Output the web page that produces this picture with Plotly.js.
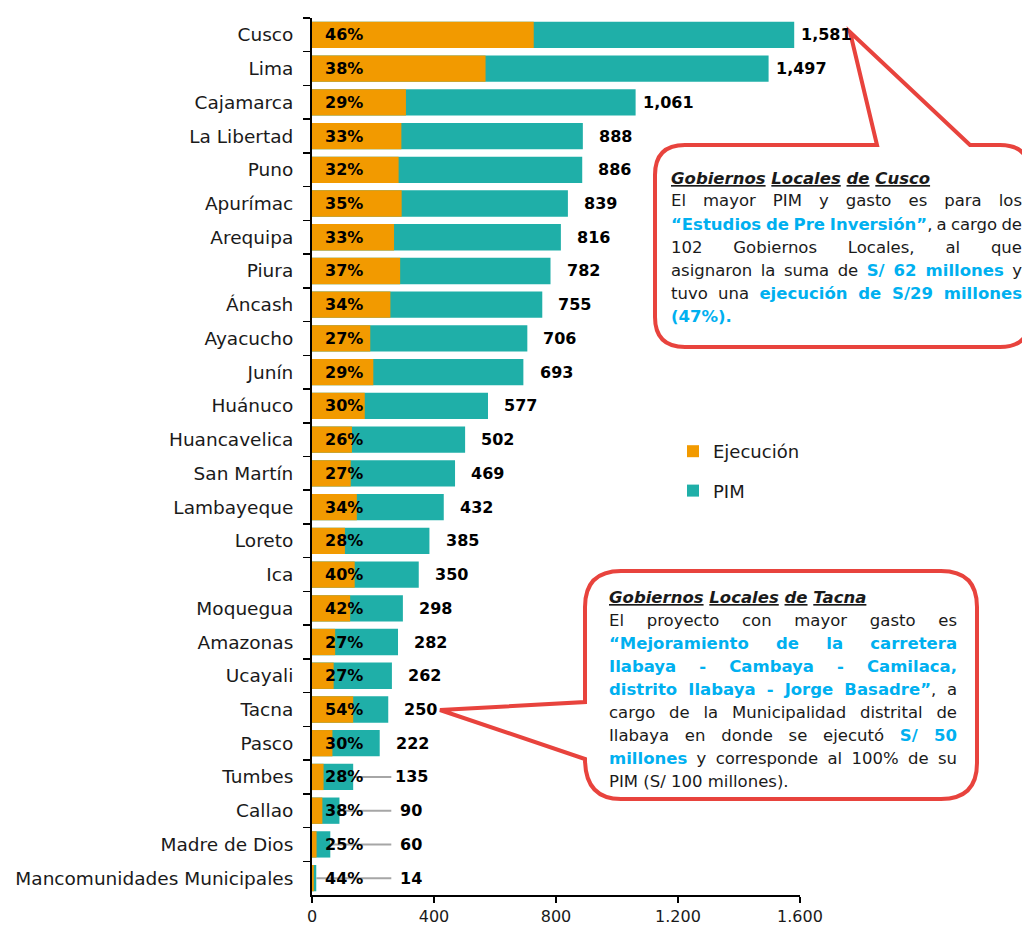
<!DOCTYPE html>
<html>
<head>
<meta charset="utf-8">
<script src="https://cdn.plot.ly/plotly-3.0.1.min.js"></script>
<style>html,body{margin:0;padding:0;background:#fff;}#chart{width:1022px;height:926px;}</style>
</head>
<body>
<div id="chart"></div>
<script>
const categories = ["Cusco","Lima","Cajamarca","La Libertad","Puno","Apurímac","Arequipa","Piura","Áncash","Ayacucho","Junín","Huánuco","Huancavelica","San Martín","Lambayeque","Loreto","Ica","Moquegua","Amazonas","Ucayali","Tacna","Pasco","Tumbes","Callao","Madre de Dios","Mancomunidades Municipales"];
const pim = [1581,1497,1061,888,886,839,816,782,755,706,693,577,502,469,432,385,350,298,282,262,250,222,135,90,60,14];
const ejecucion = [727,569,308,293,284,294,269,289,257,191,201,173,131,127,147,108,140,125,76,71,135,67,38,34,15,6];
const pctLabels = ["46%","38%","29%","33%","32%","35%","33%","37%","34%","27%","29%","30%","26%","27%","34%","28%","40%","42%","27%","27%","54%","30%","28%","38%","25%","44%"];
const pimLabels = ["1,581","1,497","1,061","888","886","839","816","782","755","706","693","577","502","469","432","385","350","298","282","262","250","222","135","90","60","14"];
const xTicks = [0,400,800,1200,1600];
const xTickText = ["0","400","800","1.200","1.600"];
const xMax = 1600;

const ORANGE = "#F29A00", TEAL = "#1FAFA8", RED = "#E8433D", BLUE = "#00B0F0", TXT = "#1a1a1a";
const FONT = "DejaVu Sans";

// plot-area pixel box (for decorations)
const L = 312, R = 800, T = 18, B = 895;
const px = x => (x - L) / (R - L);
const py = y => (B - y) / (B - T);

const traces = [
  {type:"bar", orientation:"h", name:"PIM", y:categories, x:pim, marker:{color:TEAL},
   legendrank:2, legendgroup:"p", hoverinfo:"x+y"},
  {type:"bar", orientation:"h", name:"Ejecución", y:categories, x:ejecucion, marker:{color:ORANGE},
   legendrank:1, legendgroup:"e", hoverinfo:"x+y"}
];

const annotations = [];
const shapes = [];
categories.forEach((c, i) => {
  const lx = Math.max(pim[i] + 107, 325);
  annotations.push({x:105, y:c, xref:"x", yref:"y", text:"<b>"+pctLabels[i]+"</b>", showarrow:false,
    xanchor:"center", yanchor:"middle", font:{family:FONT, size:16, color:"#000"}});
  annotations.push({x:lx / xMax, y:c, xref:"paper", yref:"y", text:"<b>"+pimLabels[i]+"</b>", showarrow:false,
    xanchor:"center", yanchor:"middle", font:{family:FONT, size:16, color:"#000"}});
  if (pim[i] + 107 < 325) {
    shapes.push({type:"line", xref:"x", yref:"y", x0:pim[i], x1:lx - 65, y0:i, y1:i,
      line:{color:"#A6A6A6", width:2}, layer:"above"});
  }
});

// rounded callout paths (pixel coords -> paper)
function P(x, y){ return px(x).toFixed(5) + "," + py(y).toFixed(5); }
function boxTop(l, t, r, b, rad, tail){
  return "M" + P(l+rad, t) + " L" + P(tail[0], t) + " L" + P(tail[1], tail[2]) + " L" + P(tail[3], t) +
    " L" + P(r-rad, t) + " Q" + P(r, t) + " " + P(r, t+rad) +
    " L" + P(r, b-rad) + " Q" + P(r, b) + " " + P(r-rad, b) +
    " L" + P(l+rad, b) + " Q" + P(l, b) + " " + P(l, b-rad) +
    " L" + P(l, t+rad) + " Q" + P(l, t) + " " + P(l+rad, t) + " Z";
}
function boxLeft(l, t, r, b, rad, tail){
  return "M" + P(l+rad, t) + " L" + P(r-rad, t) + " Q" + P(r, t) + " " + P(r, t+rad) +
    " L" + P(r, b-rad) + " Q" + P(r, b) + " " + P(r-rad, b) +
    " L" + P(l+rad, b) + " Q" + P(l, b) + " " + P(l, tail[3]) +
    " L" + P(tail[1], tail[2]) + " L" + P(l, tail[0]) +
    " L" + P(l, t+rad) + " Q" + P(l, t) + " " + P(l+rad, t) + " Z";
}
shapes.push({type:"path", xref:"paper", yref:"paper", path:boxTop(655,145,1030,347,30,[877,850,32,970]),
  line:{color:RED, width:4}, fillcolor:"#fff", layer:"above"});
shapes.push({type:"path", xref:"paper", yref:"paper", path:boxLeft(585,571,977,799,36,[702,440,710,759]),
  line:{color:RED, width:4}, fillcolor:"#fff", layer:"above"});

// callout text: lines of [text, style] segments; style n = normal, b = blue bold
const cuscoLines = [
  [["El mayor PIM y gasto es para los","n"]],
  [["“Estudios de Pre Inversión”","b"],[", a cargo de","n"]],
  [["102 Gobiernos Locales, al que","n"]],
  [["asignaron la suma de ","n"],["S/ 62 millones","b"],[" y","n"]],
  [["tuvo una ","n"],["ejecución de S/29 millones","b"]],
  [["(47%).","b"]]
];
const tacnaLines = [
  [["El proyecto con mayor gasto es","n"]],
  [["“Mejoramiento de la carretera","b"]],
  [["Ilabaya - Cambaya - Camilaca,","b"]],
  [["distrito Ilabaya - Jorge Basadre”","b"],[", a","n"]],
  [["cargo de la Municipalidad distrital de","n"]],
  [["Ilabaya en donde se ejecutó ","n"],["S/ 50","b"]],
  [["millones","b"],[" y corresponde al 100% de su","n"]],
  [["PIM (S/ 100 millones).","n"]]
];
const CSIZE = 16.5;
const ctx = document.createElement("canvas").getContext("2d");
function segWidth(s){
  ctx.font = (s[1] === "b" ? "bold " : "") + CSIZE + 'px "' + FONT + '"';
  return ctx.measureText(s[0]).width;
}
function lineHtml(segs, target, justify){
  let html = segs.map(s => s[1] === "b" ? '<b><span style="color:' + BLUE + '">' + s[0] + '</span></b>' : s[0]).join("");
  if (justify) {
    const w = segs.reduce((a, s) => a + segWidth(s), 0);
    const n = segs.reduce((a, s) => a + (s[0].match(/ /g) || []).length, 0);
    if (n > 0) html = '<span style="word-spacing:' + ((target - w) / n).toFixed(2) + 'px">' + html + '</span>';
  }
  return html;
}
function addCallout(title, lines, x0, x1, yFirst, lastJustified){
  annotations.push({xref:"paper", yref:"paper", x:px(x0), y:py(yFirst), xanchor:"left", yanchor:"middle",
    text:'<b><i><u>Gobiernos</u> <u>Locales</u> <u>de</u> <u>' + title + '</u></i></b>', showarrow:false,
    font:{family:FONT, size:CSIZE, color:TXT}});
  lines.forEach((segs, k) => {
    const justify = k < lines.length - 1 || lastJustified;
    annotations.push({xref:"paper", yref:"paper", x:px(x0), y:py(yFirst + 23 * (k + 1)), xanchor:"left", yanchor:"middle",
      text:lineHtml(segs, x1 - x0, justify), showarrow:false, font:{family:FONT, size:CSIZE, color:TXT}});
  });
}
addCallout("Cusco", cuscoLines, 669, 1020, 178, false);
addCallout("Tacna", tacnaLines, 607, 955, 597, false);

const layout = {
  width:1022, height:926,
  margin:{l:L, r:1022-R, t:T, b:926-B, pad:0},
  paper_bgcolor:"#fff", plot_bgcolor:"#fff",
  barmode:"overlay", bargap:0.22,
  showlegend:true,
  legend:{x:px(673), y:py(433), xanchor:"left", yanchor:"top", font:{family:FONT, size:18, color:TXT},
    tracegroupgap:13, itemwidth:30, bgcolor:"rgba(0,0,0,0)"},
  xaxis:{range:[0,xMax], tickvals:xTicks, ticktext:xTickText, ticks:"outside", ticklen:6, tickwidth:1.5,
    tickcolor:"#000", showline:true, linecolor:"#000", linewidth:2, showgrid:false, zeroline:false,
    tickfont:{family:FONT, size:16, color:TXT}, fixedrange:true},
  yaxis:{type:"category", autorange:"reversed", ticks:"outside", ticklen:7, tickwidth:1.5, tickcolor:"#000",
    tickson:"boundaries", showline:true, linecolor:"#000", linewidth:2, showgrid:false, zeroline:false,
    ticklabelstandoff:13, tickfont:{family:FONT, size:18.5, color:TXT}, fixedrange:true},
  annotations:annotations, shapes:shapes
};
Plotly.newPlot("chart", traces, layout, {displayModeBar:false, staticPlot:true});
</script>
</body>
</html>
